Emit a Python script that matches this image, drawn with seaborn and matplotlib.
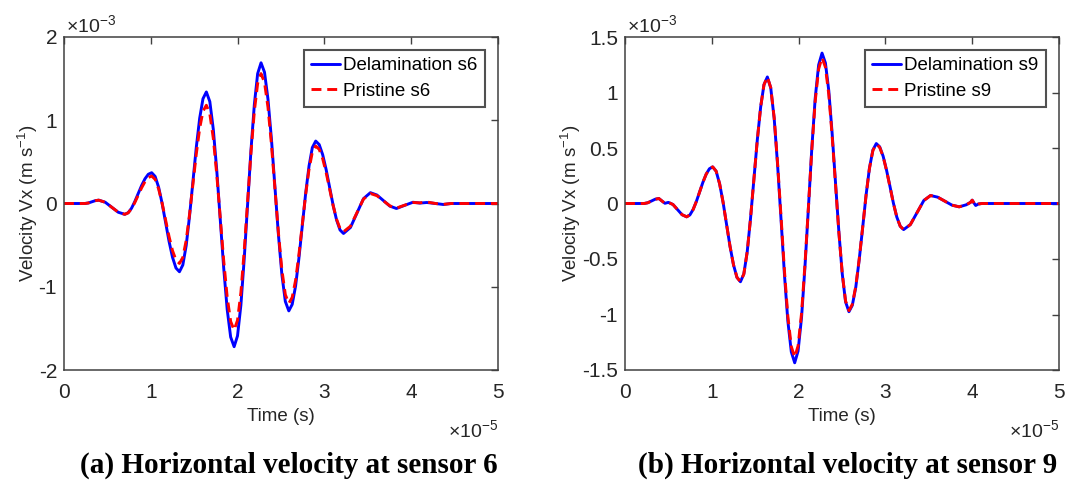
import matplotlib
matplotlib.use("Agg")
import matplotlib.pyplot as plt
import seaborn as sns
import pandas as pd

# ---------------- data (time in 1e-5 s, velocity in 1e-3 m/s) ----------------
t_s6 = [0.0, 0.24, 0.28, 0.32, 0.36, 0.40, 0.475, 0.55, 0.625, 0.70,
        0.739, 0.778, 0.816, 0.855, 0.894, 0.933, 0.971, 1.01,
        1.05, 1.09, 1.13, 1.17, 1.21, 1.25, 1.29, 1.33,
        1.369, 1.408, 1.446, 1.485, 1.524, 1.563, 1.601, 1.64,
        1.68, 1.72, 1.76, 1.80, 1.84, 1.88, 1.92, 1.96,
        1.999, 2.038, 2.076, 2.115, 2.154, 2.193, 2.231, 2.27,
        2.31, 2.35, 2.39, 2.43, 2.47, 2.51, 2.55, 2.59,
        2.629, 2.668, 2.706, 2.745, 2.784, 2.823, 2.861, 2.90,
        2.94, 2.98, 3.02, 3.06, 3.10, 3.14, 3.18, 3.22,
        3.30, 3.375, 3.45, 3.53,
        3.605, 3.68, 3.755, 3.83,
        3.925, 4.02, 4.10, 4.18, 4.28, 4.37, 4.46, 5.0]
delam_s6 = [0.0, 0.0, 0.006, 0.02, 0.034, 0.04, 0.015, -0.045, -0.105, -0.13,
            -0.111, -0.057, 0.024, 0.12, 0.216, 0.297, 0.351, 0.37,
            0.325, 0.196, 0.003, -0.225, -0.453, -0.646, -0.775, -0.82,
            -0.738, -0.504, -0.154, 0.26, 0.674, 1.024, 1.258, 1.34,
            1.224, 0.892, 0.396, -0.19, -0.776, -1.272, -1.604, -1.72,
            -1.590, -1.220, -0.668, -0.015, 0.638, 1.190, 1.560, 1.69,
            1.577, 1.253, 0.771, 0.2, -0.371, -0.853, -1.177, -1.29,
            -1.212, -0.991, -0.661, -0.27, 0.121, 0.451, 0.672, 0.75,
            0.708, 0.587, 0.408, 0.195, -0.018, -0.197, -0.318, -0.36,
            -0.288, -0.115, 0.058, 0.13,
            0.102, 0.035, -0.032, -0.06,
            -0.022, 0.015, 0.005, 0.012, 0.0, -0.012, 0.0, 0.0]
pristine_s6 = [0.0, 0.0, 0.006, 0.02, 0.034, 0.04, 0.015, -0.045, -0.105, -0.13,
               -0.1125, -0.063, 0.012, 0.10, 0.188, 0.263, 0.3125, 0.33,
               0.290, 0.176, 0.006, -0.195, -0.396, -0.566, -0.680, -0.72,
               -0.648, -0.442, -0.134, 0.23, 0.594, 0.902, 1.108, 1.18,
               1.077, 0.784, 0.347, -0.17, -0.687, -1.124, -1.417, -1.52,
               -1.403, -1.069, -0.570, 0.02, 0.610, 1.109, 1.443, 1.56,
               1.455, 1.156, 0.709, 0.18, -0.349, -0.796, -1.095, -1.20,
               -1.128, -0.923, -0.617, -0.255, 0.107, 0.413, 0.618, 0.69,
               0.651, 0.539, 0.372, 0.175, -0.022, -0.189, -0.301, -0.34,
               -0.273, -0.11, 0.053, 0.12,
               0.094, 0.0325, -0.029, -0.055,
               -0.02, 0.012, 0.008, 0.018, 0.0, -0.01, 0.0, 0.0]

t_s9 = [0.0, 0.22, 0.2625, 0.305, 0.3475, 0.39, 0.43, 0.46, 0.50,
        0.5525, 0.605, 0.6575, 0.71,
        0.7475, 0.785, 0.8225, 0.86, 0.8975, 0.935, 0.9725, 1.01,
        1.05, 1.09, 1.13, 1.17, 1.21, 1.25, 1.29, 1.33,
        1.369, 1.408, 1.446, 1.485, 1.524, 1.563, 1.601, 1.64,
        1.679, 1.719, 1.758, 1.798, 1.837, 1.876, 1.916, 1.955,
        1.994, 2.034, 2.073, 2.113, 2.152, 2.191, 2.231, 2.27,
        2.309, 2.348, 2.386, 2.425, 2.464, 2.503, 2.541, 2.58,
        2.619, 2.659, 2.698, 2.738, 2.777, 2.816, 2.856, 2.895,
        2.934, 2.974, 3.013, 3.053, 3.092, 3.131, 3.171, 3.21,
        3.2875, 3.365, 3.4425, 3.52,
        3.6025, 3.685, 3.7675, 3.85,
        3.93, 3.98, 4.00, 4.02, 4.04, 4.07, 4.11, 5.0]
delam_s9 = [0.0, 0.0, 0.0066, 0.0225, 0.0384, 0.045, 0.02, 0.002, 0.01,
            -0.009, -0.055, -0.101, -0.12,
            -0.103, -0.054, 0.019, 0.105, 0.191, 0.264, 0.313, 0.33,
            0.291, 0.178, 0.011, -0.188, -0.386, -0.553, -0.666, -0.705,
            -0.635, -0.435, -0.136, 0.218, 0.571, 0.870, 1.070, 1.14,
            1.042, 0.763, 0.346, -0.148, -0.641, -1.058, -1.337, -1.435,
            -1.329, -1.026, -0.574, -0.04, 0.494, 0.946, 1.249, 1.355,
            1.266, 1.014, 0.636, 0.19, -0.256, -0.634, -0.886, -0.975,
            -0.917, -0.753, -0.508, -0.218, 0.073, 0.318, 0.482, 0.54,
            0.511, 0.426, 0.301, 0.153, 0.004, -0.121, -0.205, -0.235,
            -0.190, -0.0815, 0.027, 0.072,
            0.057, 0.021, -0.015, -0.03,
            -0.012, 0.01, 0.03, 0.005, -0.018, -0.005, 0.0, 0.0]
pristine_s9 = [0.0, 0.0, 0.0066, 0.0225, 0.0384, 0.045, 0.02, 0.002, 0.01,
               -0.009, -0.055, -0.101, -0.12,
               -0.103, -0.054, 0.019, 0.105, 0.191, 0.264, 0.313, 0.33,
               0.291, 0.178, 0.011, -0.188, -0.386, -0.553, -0.666, -0.705,
               -0.635, -0.435, -0.136, 0.218, 0.571, 0.870, 1.070, 1.14,
               1.044, 0.770, 0.361, -0.123, -0.606, -1.015, -1.289, -1.385,
               -1.282, -0.989, -0.552, -0.035, 0.482, 0.919, 1.212, 1.315,
               1.228, 0.981, 0.612, 0.175, -0.262, -0.631, -0.878, -0.965,
               -0.908, -0.745, -0.502, -0.215, 0.072, 0.315, 0.478, 0.535,
               0.506, 0.422, 0.298, 0.150, 0.002, -0.122, -0.205, -0.235,
               -0.190, -0.0815, 0.027, 0.072,
               0.057, 0.021, -0.015, -0.03,
               -0.012, 0.01, 0.03, 0.005, -0.018, -0.005, 0.0, 0.0]

x_ticks = [0, 1, 2, 3, 4, 5]
x_ticklabels = ["0", "1", "2", "3", "4", "5"]
y_ticks_a = [-2, -1, 0, 1, 2]
y_ticklabels_a = ["-2", "-1", "0", "1", "2"]
y_ticks_b = [-1.5, -1, -0.5, 0, 0.5, 1, 1.5]
y_ticklabels_b = ["-1.5", "-1", "-0.5", "0", "0.5", "1", "1.5"]
legend_a = ["Delamination s6", "Pristine s6"]
legend_b = ["Delamination s9", "Pristine s9"]
captions = ["(a) Horizontal velocity at sensor 6", "(b) Horizontal velocity at sensor 9"]

# ---------------- style ----------------
sns.set_theme(style="white")
plt.rcParams["font.family"] = ["Liberation Sans", "DejaVu Sans"]
plt.rcParams["axes.unicode_minus"] = False
plt.rcParams["mathtext.fontset"] = "custom"
plt.rcParams["mathtext.rm"] = "Liberation Sans"
plt.rcParams["mathtext.it"] = "Liberation Sans"

TXT = "#262626"
AX = "#404040"

fig = plt.figure(figsize=(10.76, 4.83), dpi=100)
W, H = 1076, 483
axA = fig.add_axes([64 / W, (H - 370) / H, 434 / W, 333 / H])
axB = fig.add_axes([625 / W, (H - 370) / H, 434 / W, 333 / H])

panels = [
    (axA, t_s6, delam_s6, pristine_s6, y_ticks_a, y_ticklabels_a, (-2, 2), legend_a, 289, captions[0]),
    (axB, t_s9, delam_s9, pristine_s9, y_ticks_b, y_ticklabels_b, (-1.5, 1.5), legend_b, 848, captions[1]),
]

for ax, t, d, p, yt, ytl, ylim, leg, cap_x, cap in panels:
    df = pd.DataFrame({"t": t, "d": d, "p": p})
    sns.lineplot(data=df, x="t", y="d", ax=ax, color="#0000ff", lw=2.1,
                 label=leg[0], sort=False)
    sns.lineplot(data=df, x="t", y="p", ax=ax, color="#ff0000", lw=2.1,
                 linestyle=(0, (3.4, 2.0)), label=leg[1], sort=False)
    ax.set_xlim(0, 5)
    ax.set_ylim(*ylim)
    ax.set_xticks(x_ticks)
    ax.set_xticklabels(x_ticklabels)
    ax.set_yticks(yt)
    ax.set_yticklabels(ytl)
    ax.tick_params(direction="in", top=True, right=True, length=5, width=1,
                   color=AX, labelsize=15, labelcolor=TXT)
    ax.tick_params(axis="x", pad=9)
    ax.tick_params(axis="y", pad=5)
    for s in ax.spines.values():
        s.set_color(AX)
        s.set_linewidth(1.1)
    ax.set_xlabel("Time (s)", fontsize=13.5, color=TXT, labelpad=5)
    ax.set_ylabel("Velocity Vx (m s$^{-1}$)", fontsize=13.5, color=TXT, labelpad=-1)
    ax.text(0.005, 1.015, "\u00d710$^{-3}$", transform=ax.transAxes, ha="left",
            va="baseline", fontsize=14, color=TXT)
    ax.text(1.0, -0.18, "\u00d710$^{-5}$", transform=ax.transAxes, ha="right",
            va="center", fontsize=14, color=TXT)
    lg = ax.legend(loc="upper right", fontsize=13.5, frameon=True, fancybox=False,
                   borderaxespad=0.7, handlelength=1.55, handletextpad=0.18,
                   borderpad=0.38, labelspacing=0.45)
    lg.get_frame().set_edgecolor("#262626")
    lg.get_frame().set_linewidth(1.5)
    for txt in lg.get_texts():
        txt.set_color("black")
    fig.text(cap_x / W, (H - 465) / H, cap,
             ha="center", va="center", fontsize=21, fontweight="bold",
             family=["Liberation Serif", "DejaVu Serif"], color="black")

fig.savefig("out.png", dpi=100, facecolor="white")
